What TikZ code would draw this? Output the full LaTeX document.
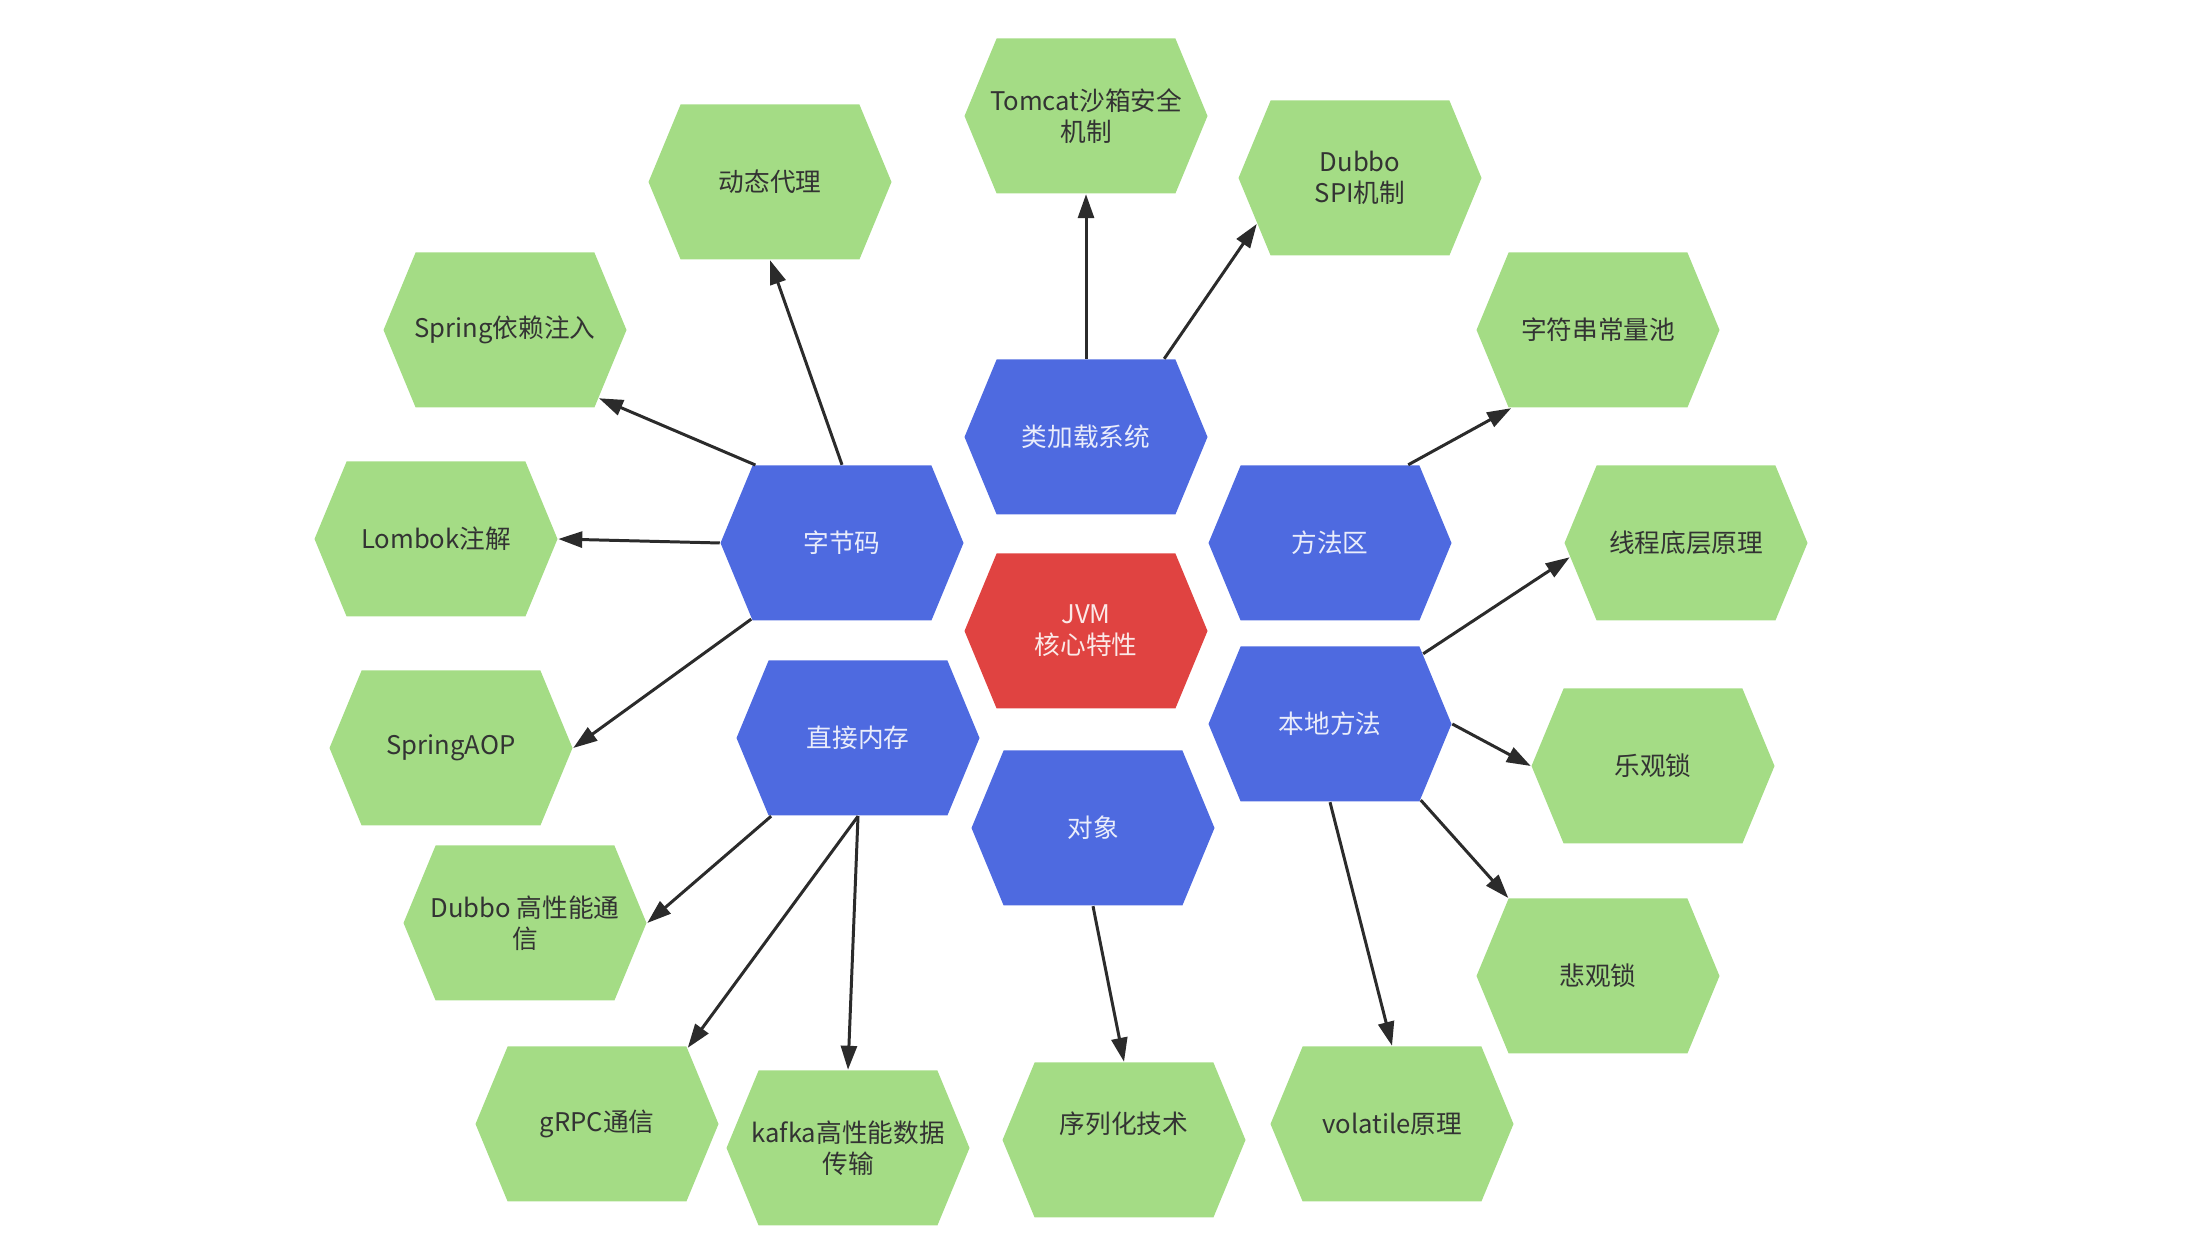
\documentclass[tikz,border=0pt]{standalone}
\usepackage{fontspec}
\setmainfont{Noto Sans CJK SC}
\usetikzlibrary{shapes.symbols,arrows.meta}
\definecolor{hexblue}{HTML}{4E6AE0}
\definecolor{hexred}{HTML}{E04341}
\definecolor{hexgreen}{HTML}{A4DC85}
\definecolor{leaftext}{HTML}{333333}
\definecolor{linkgray}{HTML}{2B2B2B}

\begin{document}
\begin{tikzpicture}[
  hexa/.style={signal, signal to=east and west, signal pointer angle=135,
    minimum width=2.43cm, minimum height=1.55cm, inner xsep=-0.1cm, inner ysep=0pt,
    align=center, font=\fontsize{7.3}{8.9}\selectfont},
  core/.style={hexa, fill=hexred, text=white!88!hexred},
  part/.style={hexa, fill=hexblue, text=white!88!hexblue},
  leaf/.style={hexa, fill=hexgreen, text=leaftext},
  link/.style={draw=linkgray, line width=0.85pt, -{Triangle[length=0.24cm,width=0.16cm]}}
]
\useasboundingbox (0,0) rectangle (22.12,12.36);
\node[core] (jvm) at (10.86,6.05) {JVM\\核心特性};
\node[part] (ljz) at (10.86,7.99) {类加载系统};
\node[part] (zjm) at (8.42,6.93) {字节码};
\node[part] (ffq) at (13.30,6.93) {方法区};
\node[part] (zjnc) at (8.58,4.98) {直接内存};
\node[part] (bdff) at (13.30,5.12) {本地方法};
\node[part] (dx) at (10.93,4.08) {对象};
\node[leaf] (tomcat) at (10.86,11.20) {Tomcat沙箱安全\\机制};
\node[leaf] (dspi) at (13.60,10.58) {Dubbo\\SPI机制};
\node[leaf] (dtdl) at (7.70,10.54) {动态代理};
\node[leaf] (spring) at (5.05,9.06) {Spring依赖注入};
\node[leaf] (zfc) at (15.98,9.06) {字符串常量池};
\node[leaf] (lombok) at (4.36,6.97) {Lombok注解};
\node[leaf] (xc) at (16.86,6.93) {线程底层原理};
\node[leaf] (aop) at (4.51,4.88) {SpringAOP};
\node[leaf] (lgs) at (16.53,4.70) {乐观锁};
\node[leaf] (dgx) at (5.25,3.13) {Dubbo 高性能通\\信};
\node[leaf] (bgs) at (15.98,2.60) {悲观锁};
\node[leaf] (grpc) at (5.97,1.12) {gRPC通信};
\node[leaf] (kafka) at (8.48,0.88) {kafka高性能数据\\传输};
\node[leaf] (xlh) at (11.24,0.96) {\raisebox{0.34cm}{序列化技术}};
\node[leaf] (vol) at (13.92,1.12) {volatile原理};
\draw[link] (ljz.north) -- (tomcat.south);
\draw[link] (ljz.45) -- (dspi.204);
\draw[link] (zjm.north) -- (dtdl.south);
\draw[link] (zjm.138) -- (spring.324);
\draw[link] (zjm.west) -- (lombok.east);
\draw[link] (zjm.220) -- (aop.east);
\draw[link] (ffq.45) -- (zfc.222);
\draw[link] (bdff.37) -- (xc.187);
\draw[link] (bdff.east) -- (lgs.west);
\draw[link] (bdff.320) -- (bgs.139);
\draw[link] (bdff.south) -- (vol.north);
\draw[link] (dx.south) -- (xlh.north);
\draw[link] (zjnc.222) -- (dgx.east);
\draw[link] (zjnc.south) -- (grpc.40);
\draw[link] (zjnc.south) -- (kafka.north);
\end{tikzpicture}
\end{document}
